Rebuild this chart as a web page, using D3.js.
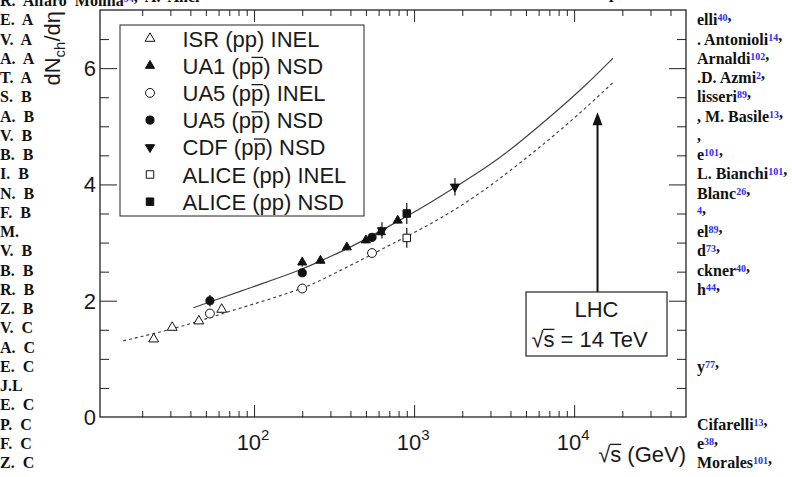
<!DOCTYPE html>
<html><head><meta charset="utf-8">
<script src="https://cdn.jsdelivr.net/npm/d3@7"></script>
<style>
html,body{margin:0;padding:0;background:#fff;}
svg{display:block;}
</style></head><body>
<svg id="chart" width="792" height="477"></svg>
<script>
// ---------------- data ----------------
const isrEnergy = [23.6, 30.8, 45.2, 62.8];
const isrInel   = [1.34, 1.54, 1.65, 1.85];
const isrErr    = [0, 0, 0, 0];

const ua1Energy = [200, 260, 380, 500, 620, 790];
const ua1Nsd    = [2.66, 2.69, 2.92, 3.04, 3.18, 3.38];
const ua1Err    = [0.07, 0.05, 0.05, 0.05, 0.05, 0.05];

const ua5Energy  = [53, 200, 546];
const ua5Inel    = [1.78, 2.21, 2.82];
const ua5InelErr = [0, 0, 0];
const ua5Nsd     = [2.0, 2.48, 3.09];
const ua5NsdErr  = [0.1, 0.05, 0.05];

const cdfEnergy = [630, 1800];
const cdfNsd    = [3.21, 3.96];
const cdfErr    = [0.14, 0.15];

const aliceEnergy  = [900];
const aliceInel    = [3.08];
const aliceInelErr = [0.17];
const aliceNsd     = [3.50];
const aliceNsdErr  = [0.18];

// fit curves (solid = NSD, dashed = INEL)
const nsdFitEnergy  = [41.8, 53, 90, 145, 200, 258, 398, 708, 1259, 1790, 2985, 4600, 7430, 12000, 17460];
const nsdFitValue   = [1.88, 1.98, 2.20, 2.40, 2.54, 2.68, 2.91, 3.29, 3.68, 3.95, 4.33, 4.73, 5.21, 5.72, 6.17];
const inelFitEnergy = [15.2, 34.5, 61.3, 114, 200, 258, 531, 708, 1143, 1849, 2985, 4597, 7430, 12000, 17460];
const inelFitValue  = [1.31, 1.54, 1.77, 1.99, 2.21, 2.34, 2.78, 2.96, 3.25, 3.58, 3.97, 4.37, 4.83, 5.33, 5.75];

const xMajorTicks = [100, 1000, 10000];
const xTickExponents = ["2", "3", "4"];
const yMajorTicks = [0, 2, 4, 6];

const legendLabels = ["ISR (pp) INEL", "UA1 (pp\u0304) NSD", "UA5 (pp\u0304) INEL", "UA5 (pp\u0304) NSD",
                      "CDF (pp\u0304) NSD", "ALICE (pp) INEL", "ALICE (pp) NSD"];

const lhcEnergy = 14000;
const lhcArrowTip = 5.24;
const lhcLines = ["LHC", "\u221As\u0304 = 14 TeV"];

// background page text (author list behind the figure)
const authorTopRow = "R. Alfaro Molina^94, A. Alici^13, E. Almar\u00e1z Avi\u00f1a, J. Alme, T. Alt, V. Altini, S. Altinpinar,";
const authorLeft = ["", "E. A", "V. A", "A. A", "T. A", "S. B", "A. B", "V. B", "B. B", "I. B", "N. B", "F. B", "M.",
                    "V. B", "B. B", "R. B", "Z. B", "V. C", "A. C", "E. C", "J.L", "E. C", "P. C", "F. C", "Z. C"];
const authorRight = ["", "elli^40,", ". Antonioli^14,", "Arnaldi^102,", ".D. Azmi^2,", "lisseri^89,", ", M. Basile^13,",
                     ",", "e^101,", "L. Bianchi^101,", "Blanc^26,", "^4,", "el^89,", "d^73,", "ckner^40,", "h^44,",
                     "", "", "", "y^77,", "", "", "Cifarelli^13,", "e^38,", "Morales^101,"];

// ---------------- drawing ----------------
const svg = d3.select("#chart");
const sans = "'Liberation Sans', Arial, Helvetica, sans-serif";
const serif = "'Liberation Serif', 'Times New Roman', serif";
const ink = "#1a1a1a";

// author text
const rowY = i => 6 + i * 19.25;
function authorText(g, str, xPos, yPos, extra) {
  const t = g.append("text").attr("x", xPos).attr("y", yPos)
    .attr("font-family", serif).attr("font-weight", "bold").attr("font-size", 16).attr("fill", "#111");
  if (extra) Object.entries(extra).forEach(([k, v]) => t.attr(k, v));
  const re = /\^(\d+)/g;
  let last = 0, m;
  while ((m = re.exec(str)) !== null) {
    if (m.index > last) t.append("tspan").text(str.slice(last, m.index));
    t.append("tspan").attr("fill", "#2a2aff").attr("font-size", 10).attr("dy", -4).text(m[1]);
    t.append("tspan").attr("dy", 4).text("");
    last = re.lastIndex;
  }
  if (last < str.length) t.append("tspan").text(str.slice(last));
}
const bg = svg.append("g");
authorText(bg, authorTopRow, 0, rowY(0), {"word-spacing": 4});
authorLeft.forEach((s, i) => { if (s) authorText(bg, s, 0, rowY(i), {"word-spacing": 4}); });
authorRight.forEach((s, i) => { if (s) authorText(bg, s, 697, rowY(i)); });

// white figure area
svg.append("rect").attr("x", 36).attr("y", 8).attr("width", 658).attr("height", 469).attr("fill", "#fff");

// scales
const x = d3.scaleLog().domain([10.9, 50000]).range([100, 686]);
const y = d3.scaleLinear().domain([0, 7]).range([417, 10]);
const [x0, x1] = x.range(), [y0, y1] = y.range();

// frame
svg.append("rect").attr("x", x0).attr("y", y1).attr("width", x1 - x0).attr("height", y0 - y1)
  .attr("fill", "none").attr("stroke", "#222").attr("stroke-width", 1.3);

// ticks
const xMinor = x.ticks().filter(v => !xMajorTicks.includes(v) && x(v) > x0 + 1 && x(v) < x1 - 1);
const yMinor = d3.range(0.5, 7, 0.5).filter(v => !yMajorTicks.includes(v));
function ticks(axisFn, scale, values, size, tr) {
  svg.append("g").attr("transform", tr)
    .call(axisFn(scale).tickValues(values).tickSizeInner(size).tickSizeOuter(0).tickFormat(""))
    .call(g => g.select(".domain").remove())
    .call(g => g.selectAll(".tick line").attr("stroke", "#222").attr("stroke-width", 1));
}
ticks(d3.axisBottom, x, xMajorTicks, -12, `translate(0,${y0})`);
ticks(d3.axisBottom, x, xMinor, -6, `translate(0,${y0})`);
ticks(d3.axisTop, x, xMajorTicks, -12, `translate(0,${y1})`);
ticks(d3.axisTop, x, xMinor, -6, `translate(0,${y1})`);
ticks(d3.axisLeft, y, yMajorTicks.filter(v => v > 0), -17, `translate(${x0},0)`);
ticks(d3.axisLeft, y, yMinor, -9, `translate(${x0},0)`);
ticks(d3.axisRight, y, yMajorTicks.filter(v => v > 0), -17, `translate(${x1},0)`);
ticks(d3.axisRight, y, yMinor, -9, `translate(${x1},0)`);

// tick labels
xMajorTicks.forEach((v, i) => {
  const t = svg.append("text").attr("x", x(v) - 1).attr("y", 450).attr("text-anchor", "middle")
    .attr("font-family", sans).attr("font-size", 22).attr("fill", ink);
  t.append("tspan").text("10");
  t.append("tspan").attr("font-size", 15).attr("dy", -10).text(xTickExponents[i]);
});
yMajorTicks.forEach(v => {
  svg.append("text").attr("x", 96).attr("y", y(v) + 8).attr("text-anchor", "end")
    .attr("font-family", sans).attr("font-size", 22).attr("fill", ink).text(v);
});

// helper: text where a letter followed by U+0304 gets a bar drawn over it
function richText(parent, t, str, fs, baseY) {
  const plain = str.replace(/\u0304/g, "");
  t.text(plain);
  const barIdx = [];
  let k = 0;
  for (let i = 0; i < str.length; i++) {
    if (str[i] === "\u0304") { barIdx.push(k - 1); continue; }
    k++;
  }
  const node = t.node();
  barIdx.forEach(ci => {
    const ext = node.getExtentOfChar(ci);
    const afterRoot = ci > 0 && plain[ci - 1] === "\u221A";
    const by = afterRoot ? baseY - 0.80 * fs : baseY - 0.74 * fs;
    parent.append("line").attr("x1", afterRoot ? ext.x - 0.5 : ext.x + 0.5).attr("x2", ext.x + ext.width)
      .attr("y1", by).attr("y2", by).attr("stroke", ink).attr("stroke-width", 1.3);
  });
  return t;
}

// axis titles
richText(svg, svg.append("text").attr("x", 686).attr("y", 462).attr("text-anchor", "end")
  .attr("font-family", sans).attr("font-size", 22).attr("fill", ink), "\u221As\u0304 (GeV)", 22, 462);
{
  const t = svg.append("text").attr("transform", "translate(60,11) rotate(-90)").attr("text-anchor", "end")
    .attr("font-family", sans).attr("font-size", 22).attr("fill", ink);
  t.append("tspan").text("dN");
  t.append("tspan").attr("font-size", 15).attr("dy", 5).text("ch");
  t.append("tspan").attr("dy", -5).text("/d\u03b7");
}

// fit curves
const line = d3.line().x(d => x(d[0])).y(d => y(d[1])).curve(d3.curveBasis);
svg.append("path").datum(d3.zip(nsdFitEnergy, nsdFitValue)).attr("d", line)
  .attr("fill", "none").attr("stroke", "#444").attr("stroke-width", 1.2);
svg.append("path").datum(d3.zip(inelFitEnergy, inelFitValue)).attr("d", line)
  .attr("fill", "none").attr("stroke", "#444").attr("stroke-width", 1.2).attr("stroke-dasharray", "3,3");

// markers
const markerDefs = [
  {type: d3.symbolTriangle, size: 42, filled: false, rot: 0},   // ISR
  {type: d3.symbolTriangle, size: 36, filled: true,  rot: 0},   // UA1
  {type: d3.symbolCircle,   size: 62, filled: false, rot: 0},   // UA5 INEL
  {type: d3.symbolCircle,   size: 52, filled: true,  rot: 0},   // UA5 NSD
  {type: d3.symbolTriangle, size: 36, filled: true,  rot: 180}, // CDF
  {type: d3.symbolSquare,   size: 56, filled: false, rot: 0},   // ALICE INEL
  {type: d3.symbolSquare,   size: 56, filled: true,  rot: 0}    // ALICE NSD
];
const seriesData = [
  [isrEnergy, isrInel, isrErr],
  [ua1Energy, ua1Nsd, ua1Err],
  [ua5Energy, ua5Inel, ua5InelErr],
  [ua5Energy, ua5Nsd, ua5NsdErr],
  [cdfEnergy, cdfNsd, cdfErr],
  [aliceEnergy, aliceInel, aliceInelErr],
  [aliceEnergy, aliceNsd, aliceNsdErr]
];
function drawMarker(g, def, cx, cy) {
  g.append("path").attr("d", d3.symbol().type(def.type).size(def.size)())
    .attr("transform", `translate(${cx},${cy}) rotate(${def.rot})`)
    .attr("fill", def.filled ? "#111" : "#fff").attr("stroke", "#111").attr("stroke-width", 1);
}
const errG = svg.append("g"), mkG = svg.append("g");
seriesData.forEach(([e, v, err]) => {
  e.forEach((en, i) => {
    if (err[i] > 0) {
      errG.append("line").attr("x1", x(en)).attr("x2", x(en))
        .attr("y1", y(v[i] - err[i])).attr("y2", y(v[i] + err[i]))
        .attr("stroke", "#111").attr("stroke-width", 1.2);
    }
  });
});
seriesData.forEach(([e, v], si) => {
  e.forEach((en, i) => drawMarker(mkG, markerDefs[si], x(en), y(v[i])));
});

// legend
const lg = svg.append("g");
lg.append("rect").attr("x", 120).attr("y", 25).attr("width", 244).attr("height", 191)
  .attr("fill", "#fff").attr("stroke", "#222").attr("stroke-width", 1);
legendLabels.forEach((lab, i) => {
  const cy = 38.5 + i * 27.2;
  drawMarker(lg, markerDefs[i], 150, cy);
  richText(lg, lg.append("text").attr("x", 182.5).attr("y", cy + 8)
    .attr("font-family", sans).attr("font-size", 22).attr("fill", ink), lab, 22, cy + 8);
});

// LHC annotation
const ax = x(lhcEnergy);
const tipY = y(lhcArrowTip);
const boxTop = 292, boxBot = 356, boxW = 141;
svg.append("line").attr("x1", ax).attr("x2", ax).attr("y1", tipY + 10).attr("y2", boxTop)
  .attr("stroke", "#111").attr("stroke-width", 2);
svg.append("path").attr("d", `M${ax},${tipY} L${ax - 5},${tipY + 13} L${ax + 5},${tipY + 13} Z`).attr("fill", "#111");
svg.append("rect").attr("x", ax - 1 - boxW / 2).attr("y", boxTop).attr("width", boxW).attr("height", boxBot - boxTop)
  .attr("fill", "#fff").attr("stroke", "#222").attr("stroke-width", 1.2);
svg.append("text").attr("x", ax - 1).attr("y", 317).attr("text-anchor", "middle")
  .attr("font-family", sans).attr("font-size", 22).attr("fill", ink).text(lhcLines[0]);
richText(svg, svg.append("text").attr("x", ax - 8).attr("y", 347).attr("text-anchor", "middle")
  .attr("font-family", sans).attr("font-size", 22).attr("fill", ink), lhcLines[1], 22, 347);
</script>
</body></html>
